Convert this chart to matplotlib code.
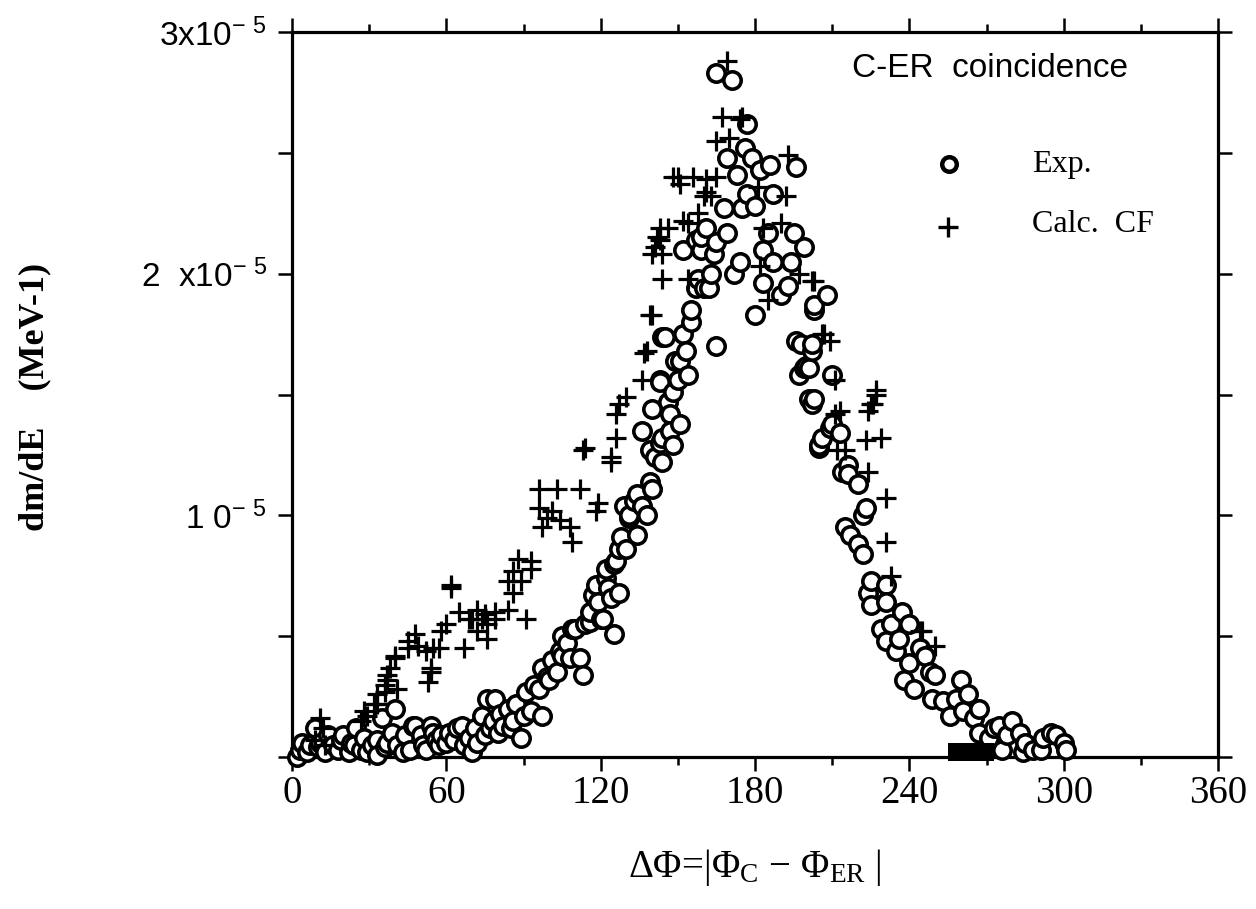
import matplotlib
matplotlib.use("Agg")
import matplotlib.pyplot as plt
from matplotlib.ticker import MultipleLocator, FixedLocator

plt.rcParams['mathtext.default'] = 'regular'

# ---- data (y in units of 1e-5 MeV^-1) ----
exp_x = [2, 3, 4, 6, 7, 9, 10, 11, 13, 14, 16, 18, 19, 20, 22, 23, 24, 25, 27, 28, 29, 31, 33, 33,
         35, 36, 37, 39, 40, 41, 43, 44, 46, 47, 48, 50, 51, 52, 54, 55, 56, 57, 58, 60, 61, 63,
         64, 66, 67, 69, 70, 71, 72, 74, 75, 76, 77, 78, 79, 80, 81, 82, 84, 85, 86, 87, 89, 90,
         91, 93, 94, 96, 97, 97, 99, 100, 101, 103, 104, 105, 105, 107, 108, 109, 110, 112, 113,
         114, 116, 116, 117, 118, 119, 120, 121, 122, 122, 123, 124, 125, 125, 126, 127, 127, 128,
         129, 130, 131, 131, 133, 134, 134, 136, 136, 138, 139, 139, 140, 140, 141, 143, 143, 143,
         144, 144, 144, 145, 146, 147, 147, 148, 148, 149, 150, 151, 151, 152, 152, 153, 154, 155,
         155, 157, 157, 158, 159, 159, 160, 161, 162, 163, 164, 165, 165, 165, 168, 169, 169, 171,
         172, 173, 174, 175, 176, 177, 177, 179, 180, 180, 182, 183, 183, 185, 186, 187, 187, 190,
         193, 194, 195, 196, 196, 197, 198, 199, 199, 200, 201, 201, 202, 202, 202, 203, 203, 203,
         205, 205, 206, 208, 209, 210, 210, 213, 214, 215, 216, 216, 217, 220, 220, 222, 222, 223,
         224, 225, 225, 229, 231, 231, 231, 233, 235, 236, 237, 238, 240, 240, 242, 244, 246, 248,
         249, 250, 253, 256, 258, 260, 261, 263, 265, 267, 267, 271, 273, 275, 276, 278, 280, 283,
         284, 285, 288, 291, 292, 295, 297, 300, 301]
exp_y = [0.00, 0.03, 0.06, 0.02, 0.05, 0.12, 0.04, 0.06, 0.02, 0.09, 0.05, 0.03, 0.07, 0.09, 0.02,
         0.06, 0.05, 0.12, 0.03, 0.08, 0.02, 0.05, 0.07, 0.01, 0.16, 0.04, 0.06, 0.10, 0.20, 0.05,
         0.02, 0.09, 0.03, 0.13, 0.13, 0.09, 0.05, 0.03, 0.13, 0.10, 0.07, 0.05, 0.09, 0.06, 0.10,
         0.07, 0.12, 0.13, 0.05, 0.08, 0.02, 0.12, 0.06, 0.17, 0.09, 0.24, 0.12, 0.15, 0.24, 0.10,
         0.18, 0.13, 0.20, 0.12, 0.15, 0.22, 0.08, 0.17, 0.27, 0.19, 0.30, 0.28, 0.17, 0.37, 0.33,
         0.32, 0.40, 0.35, 0.44, 0.42, 0.50, 0.47, 0.41, 0.53, 0.53, 0.41, 0.34, 0.55, 0.56, 0.60,
         0.67, 0.71, 0.64, 0.57, 0.57, 0.74, 0.78, 0.70, 0.66, 0.80, 0.51, 0.81, 0.68, 0.86, 0.91,
         1.04, 0.86, 0.99, 1.00, 1.06, 0.92, 1.09, 1.04, 1.35, 1.00, 1.27, 1.14, 1.11, 1.44, 1.24,
         1.30, 1.56, 1.55, 1.22, 1.32, 1.74, 1.74, 1.47, 1.42, 1.35, 1.29, 1.51, 1.64, 1.56, 1.38,
         1.64, 1.75, 2.10, 1.68, 1.58, 1.80, 1.85, 1.94, 2.14, 1.98, 2.10, 2.15, 1.94, 2.19, 1.94,
         2.00, 2.08, 1.70, 2.13, 2.83, 2.27, 2.17, 2.48, 2.80, 2.00, 2.41, 2.05, 2.27, 2.52, 2.33,
         2.62, 2.48, 2.28, 1.83, 2.43, 2.10, 1.96, 2.17, 2.45, 2.33, 2.05, 1.91, 1.95, 2.05, 2.17,
         2.44, 1.72, 1.58, 1.71, 2.11, 1.61, 1.62, 1.48, 1.61, 1.68, 1.71, 1.46, 1.85, 1.48, 1.87,
         1.28, 1.29, 1.32, 1.91, 1.36, 1.38, 1.58, 1.34, 1.18, 0.95, 1.21, 1.17, 0.92, 1.13, 0.88,
         1.00, 0.84, 1.03, 0.68, 0.73, 0.63, 0.53, 0.71, 0.64, 0.48, 0.55, 0.44, 0.49, 0.60, 0.32,
         0.55, 0.39, 0.28, 0.45, 0.42, 0.35, 0.24, 0.34, 0.23, 0.17, 0.24, 0.32, 0.19, 0.26, 0.16,
         0.20, 0.10, 0.08, 0.12, 0.13, 0.03, 0.09, 0.15, 0.10, 0.02, 0.06, 0.03, 0.03, 0.08, 0.10,
         0.09, 0.06, 0.03]

calc_x = [9, 11, 12, 13, 27, 28, 29, 32, 33, 33, 36, 36, 37, 37, 38, 40, 40, 41, 45, 45, 48, 49,
          52, 53, 54, 54, 55, 57, 58, 60, 62, 62, 65, 67, 69, 70, 72, 72, 74, 75, 76, 76, 79, 79,
          84, 84, 86, 86, 88, 89, 91, 93, 93, 96, 96, 97, 99, 101, 103, 104, 108, 109, 112, 113,
          114, 118, 119, 124, 124, 126, 126, 127, 130, 136, 137, 138, 139, 140, 140, 141, 142, 143,
          143, 144, 144, 146, 148, 150, 151, 152, 154, 154, 156, 158, 160, 161, 161, 163, 165, 165,
          167, 169, 170, 174, 175, 181, 182, 183, 185, 190, 192, 193, 197, 202, 203, 206, 207, 209,
          211, 211, 212, 213, 215, 223, 224, 224, 225, 226, 227, 227, 229, 231, 231, 233, 244, 245,
          250]
calc_y = [0.07, 0.16, 0.12, 0.05, 0.15, 0.19, 0.17, 0.22, 0.26, 0.22, 0.30, 0.27, 0.34, 0.32, 0.37,
          0.41, 0.42, 0.28, 0.45, 0.48, 0.51, 0.46, 0.44, 0.31, 0.35, 0.37, 0.45, 0.45, 0.52, 0.55,
          0.70, 0.71, 0.60, 0.45, 0.57, 0.57, 0.61, 0.52, 0.57, 0.59, 0.55, 0.49, 0.60, 0.57, 0.61,
          0.73, 0.77, 0.68, 0.82, 0.73, 0.57, 0.81, 0.78, 1.03, 1.11, 0.95, 0.99, 1.02, 1.11, 0.98,
          0.95, 0.89, 1.11, 1.27, 1.28, 1.02, 1.05, 1.24, 1.22, 1.32, 1.42, 1.46, 1.49, 1.56, 1.67,
          1.68, 1.83, 1.83, 2.08, 2.11, 2.15, 2.14, 2.19, 1.98, 2.08, 2.19, 2.40, 2.40, 2.37, 2.22,
          2.21, 1.98, 2.40, 2.25, 2.32, 2.39, 2.34, 2.32, 2.40, 2.55, 2.65, 2.88, 2.56, 2.64, 2.65,
          2.36, 2.03, 2.19, 1.89, 2.21, 2.32, 2.49, 2.00, 1.97, 1.97, 1.75, 1.75, 1.72, 1.56, 1.42,
          1.27, 1.43, 1.27, 1.31, 1.43, 1.18, 1.46, 1.46, 1.50, 1.52, 1.32, 1.07, 0.89, 0.75, 0.52,
          0.52, 0.46]

bar_x = [255, 273]          # filled block on the x axis
bar_y = [-0.015, 0.06]

x_ticks = [0, 60, 120, 180, 240, 300, 360]
x_ticklabels = ['0', '60', '120', '180', '240', '300', '360']
y_ticks = [0, 1, 2, 3]
y_ticklabels = ['', '1 0$^{-\\ 5}$', '2  x10$^{-\\ 5}$', '3x10$^{-\\ 5}$']

SERIF = 'Liberation Serif'
SANS = 'Liberation Sans'

fig = plt.figure(figsize=(12.56, 9.09), dpi=100)
ax = fig.add_axes([292 / 1256, 1 - 757 / 909, 926 / 1256, 725 / 909])

ax.plot(exp_x, exp_y, linestyle='none', marker='o', ms=12.5, mew=2.6,
        mfc='white', mec='black', zorder=3, clip_on=False)
ax.plot(calc_x, calc_y, linestyle='none', marker='+', ms=15, mew=2.3,
        color='black', zorder=4, clip_on=False)
ax.fill_between(bar_x, bar_y[0], bar_y[1], color='black', zorder=5, clip_on=False, lw=0)

ax.set_xlim(0, 360)
ax.set_ylim(0, 3)

for s in ax.spines.values():
    s.set_linewidth(2.3)

ax.xaxis.set_major_locator(FixedLocator(x_ticks))
ax.xaxis.set_minor_locator(MultipleLocator(30))
ax.set_xticklabels(x_ticklabels, fontsize=28, family=SERIF)
ax.yaxis.set_major_locator(FixedLocator(y_ticks))
ax.yaxis.set_minor_locator(MultipleLocator(0.5))
ax.set_yticklabels(y_ticklabels, fontsize=24, family=SANS)

ax.tick_params(which='both', direction='out', top=True, right=True, width=1.8)
ax.tick_params(axis='x', which='major', length=10, pad=3)
ax.tick_params(axis='x', which='minor', length=6)
ax.tick_params(axis='y', which='both', length=10, pad=8)

# legend / annotation
ax.text(0.605, 0.950, 'C-ER  coincidence', transform=ax.transAxes, fontsize=24,
        family=SANS, ha='left', va='center')
ax.plot([0.710], [0.818], transform=ax.transAxes, marker='o', ms=10.5, mew=3.2,
        mfc='white', mec='black', linestyle='none', clip_on=False)
ax.text(0.799, 0.817, 'Exp.', transform=ax.transAxes, fontsize=23, family=SERIF,
        ha='left', va='center')
ax.plot([0.708], [0.731], transform=ax.transAxes, marker='+', ms=14, mew=2.4,
        color='black', linestyle='none', clip_on=False)
ax.text(0.799, 0.734, 'Calc.  CF', transform=ax.transAxes, fontsize=23, family=SERIF,
        ha='left', va='center')

fig.text(35 / 1256, 1 - 397 / 909, 'dm/dE    (MeV-1)', rotation=90, fontsize=26,
         fontweight='bold', family=SERIF, ha='center', va='center')
fig.text(755 / 1256, 1 - 868 / 909, 'ΔΦ=|Φ$_{C}$ − Φ$_{ER}$ |', fontsize=28,
         family=SERIF, ha='center', va='center')

fig.savefig('out.png', dpi=100)
